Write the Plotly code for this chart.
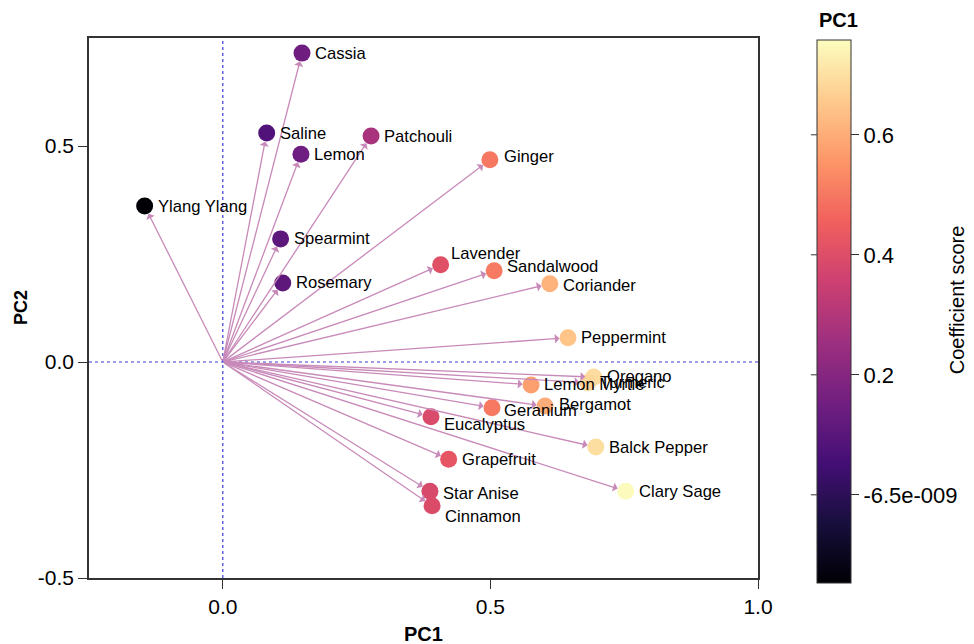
import plotly.graph_objects as go

names = ["Cassia", "Saline", "Lemon", "Patchouli", "Ginger", "Ylang Ylang", "Spearmint",
         "Rosemary", "Lavender", "Sandalwood", "Coriander", "Peppermint", "Oregano",
         "Turmeric", "Lemon Myrtle", "Bergamot", "Geranium", "Eucalyptus", "Balck Pepper",
         "Grapefruit", "Clary Sage", "Star Anise", "Cinnamon"]
pc1 = [0.148, 0.082, 0.146, 0.277, 0.499, -0.146, 0.108,
       0.112, 0.407, 0.507, 0.611, 0.645, 0.693,
       0.682, 0.576, 0.602, 0.503, 0.389, 0.697,
       0.422, 0.753, 0.387, 0.391]
pc2 = [0.715, 0.530, 0.481, 0.523, 0.468, 0.361, 0.285,
       0.183, 0.225, 0.211, 0.181, 0.056, -0.035,
       -0.048, -0.053, -0.102, -0.106, -0.127, -0.197,
       -0.225, -0.299, -0.299, -0.333]
cbar_ticks = [0.0, 0.2, 0.4, 0.6]
cbar_ticktext = ["-6.5e-009", "0.2", "0.4", "0.6"]
x_ticks = [0.0, 0.5, 1.0]
x_ticktext = ["0.0", "0.5", "1.0"]
y_ticks = [-0.5, 0.0, 0.5]
y_ticktext = ["-0.5", "0.0", "0.5"]

FONT = "Liberation Sans, Arial, sans-serif"
ARROW = "#c88ab9"
CMIN, CMAX = -0.147, 0.758
CB_Y, CB_LEN = 0.4935, 1.0056
CB_X = 1.088
PLOT_W = 669

# label nudges (pixels): (xshift, yshift)
nudge = {"Ginger": (12, 3), "Lavender": (8, 11), "Sandalwood": (11, 4),
         "Coriander": (11, -2), "Bergamot": (12, 2), "Geranium": (10, -3),
         "Eucalyptus": (11, -8), "Cinnamon": (11, -11), "Star Anise": (11, -2),
         "Oregano": (11, 1), "Turmeric": (10, 0)}

fig = go.Figure()

fig.add_trace(go.Scatter(
    x=pc1, y=pc2, mode="markers",
    marker=dict(size=17, color=pc1, colorscale="Magma", cmin=CMIN, cmax=CMAX,
                line=dict(width=0),
                colorbar=dict(
                    x=CB_X, xanchor="left", xpad=0, y=CB_Y, yanchor="middle",
                    len=CB_LEN, lenmode="fraction", ypad=0, thickness=34,
                    outlinecolor="#333", outlinewidth=1,
                    tickvals=cbar_ticks, ticktext=cbar_ticktext,
                    ticks="outside", ticklen=8, tickcolor="#333",
                    tickfont=dict(family=FONT, size=22, color="black"),
                )),
    cliponaxis=False, showlegend=False, text=names, hoverinfo="text",
))

annotations = []
for xv, yv in zip(pc1, pc2):
    annotations.append(dict(
        x=xv, y=yv, ax=0, ay=0, xref="x", yref="y", axref="x", ayref="y",
        text="", showarrow=True, arrowhead=1, arrowsize=1.2, arrowwidth=1.3,
        arrowcolor=ARROW, standoff=8.5,
    ))
for nm, xv, yv in zip(names, pc1, pc2):
    dx, dy = nudge.get(nm, (11, 0))
    annotations.append(dict(
        x=xv, y=yv, xref="x", yref="y", text=nm, showarrow=False,
        xanchor="left", yanchor="middle", xshift=dx, yshift=dy,
        font=dict(family=FONT, size=16.6, color="black"),
    ))
# colorbar heading
annotations.append(dict(
    x=1.121, y=1.0, xref="paper", yref="paper", yshift=18,
    text="<b>PC1</b>", showarrow=False,
    font=dict(family=FONT, size=20, color="black"), xanchor="center", yanchor="middle",
))
annotations.append(dict(
    x=1.298, y=0.515, xref="paper", yref="paper", text="Coefficient score",
    showarrow=False, textangle=-90,
    font=dict(family=FONT, size=20, color="black"), xanchor="center", yanchor="middle",
))
# axis titles
annotations.append(dict(
    x=0.5, y=0, xref="paper", yref="paper", yshift=-56, text="<b>PC1</b>",
    showarrow=False, font=dict(family=FONT, size=20, color="black"),
    xanchor="center", yanchor="middle",
))
annotations.append(dict(
    x=0, y=0.5, xref="paper", yref="paper", xshift=-68, text="<b>PC2</b>",
    showarrow=False, textangle=-90, font=dict(family=FONT, size=18, color="black"),
    xanchor="center", yanchor="middle",
))

shapes = [
    dict(type="line", x0=0, x1=0, y0=0, y1=1, xref="x", yref="paper",
         line=dict(color="#3b3bd0", width=1.2, dash="dot"), layer="below"),
    dict(type="line", x0=0, x1=1, y0=0, y1=0, xref="paper", yref="y",
         line=dict(color="#3b3bd0", width=1.2, dash="dot"), layer="below"),
]
# ticks on left side of the colorbar
cb_bottom = CB_Y - CB_LEN / 2
for v in cbar_ticks:
    py = cb_bottom + (v - CMIN) / (CMAX - CMIN) * CB_LEN
    shapes.append(dict(type="line", xref="paper", yref="paper", x0=CB_X - 6 / PLOT_W, x1=CB_X,
                       y0=py, y1=py, line=dict(color="#333", width=1)))

# page body has an 8px margin; size the figure so the plot lands where the reference has it
fig.update_layout(
    width=966, height=636,
    margin=dict(l=81, r=216, t=30, b=66),
    paper_bgcolor="white", plot_bgcolor="white",
    annotations=annotations,
    shapes=shapes,
    xaxis=dict(range=[-0.25, 1.0], tickvals=x_ticks, ticktext=x_ticktext, automargin=False,
               showgrid=False, zeroline=False, showline=True, linecolor="#333",
               linewidth=1.5, mirror=True, ticks="outside", ticklen=9, tickcolor="#333",
               tickfont=dict(family=FONT, size=21, color="black")),
    yaxis=dict(range=[-0.5, 0.75], tickvals=y_ticks, ticktext=y_ticktext, automargin=False,
               showgrid=False, zeroline=False, showline=True, linecolor="#333",
               linewidth=1.5, mirror=True, ticks="outside", ticklen=9, tickcolor="#333",
               tickfont=dict(family=FONT, size=21, color="black")),
)

fig.write_html("out.html")
